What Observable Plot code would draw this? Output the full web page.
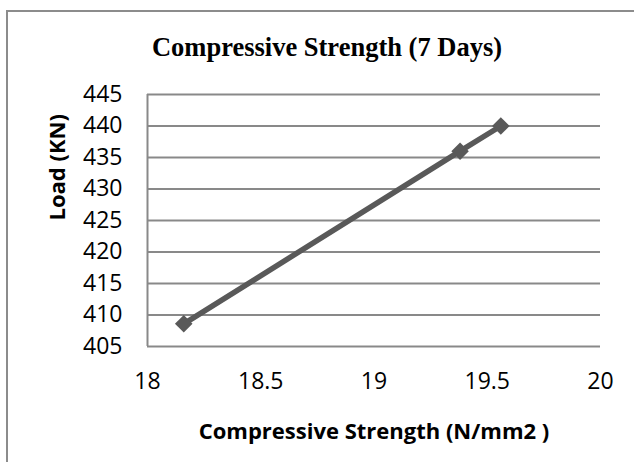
<!DOCTYPE html>
<html>
<head>
<meta charset="utf-8">
<script src="https://cdn.jsdelivr.net/npm/d3@7"></script>
<script src="https://cdn.jsdelivr.net/npm/@observablehq/plot@0.6"></script>
<style>
  html, body { margin: 0; padding: 0; background: #fff; }
  #wrap { position: relative; width: 634px; height: 462px; overflow: hidden; }
  #border { position: absolute; left: 6px; top: 10px; width: 700px; height: 500px;
            border-left: 2px solid #8c8c8c; border-top: 2px solid #8c8c8c; }
  #chart { position: absolute; left: 0; top: 0; }
</style>
</head>
<body>
<div id="wrap">
  <div id="border"></div>
  <div id="chart"></div>
</div>
<script>
// Data
const strength = [18.16, 19.38, 19.56];   // Compressive Strength (N/mm2)
const load = [408.6, 436, 440];           // Load (KN)
const xTicks = [18, 18.5, 19, 19.5, 20];
const yTicks = [405, 410, 415, 420, 425, 430, 435, 440, 445];
const titleText = "Compressive Strength (7 Days)";
const xTitle = "Compressive Strength (N/mm2 )";
const yTitle = "Load (KN)";

const data = strength.map((s, i) => ({x: s, y: load[i]}));
const lineColor = "#595959";
const gridColor = "#898989";
const sans = "'Open Sans', sans-serif";
const fmt = d => String(d);

const chart = Plot.plot({
  width: 634,
  height: 462,
  marginLeft: 147,
  marginRight: 34,
  marginTop: 94,
  marginBottom: 116,
  style: {background: "transparent", fontFamily: sans, fontSize: "23px", color: "#000"},
  x: {domain: [18, 20]},
  y: {domain: [405, 445]},
  marks: [
    Plot.ruleY(yTicks, {stroke: gridColor, strokeWidth: 2}),
    Plot.ruleX([18], {y1: 405, y2: 445, stroke: gridColor, strokeWidth: 2}),
    Plot.axisX({ticks: xTicks, tickFormat: fmt, tickSize: 0, tickPadding: 26, label: null, fontSize: 23, fill: "#000"}),
    Plot.axisY({ticks: yTicks, tickFormat: fmt, tickSize: 0, tickPadding: 25, label: null, fontSize: 23, fill: "#000"}),
    Plot.line(data, {x: "x", y: "y", stroke: lineColor, strokeWidth: 5.5}),
    Plot.dot(data, {x: "x", y: "y", symbol: "square", rotate: 45, r: 7, fill: lineColor, stroke: "none"}),
    Plot.text([titleText], {frameAnchor: "top", dx: -47, dy: -47, lineAnchor: "middle",
      fontFamily: "'Liberation Serif', 'Times New Roman', serif", fontWeight: "bold", fontSize: 26.5, fill: "#000"}),
    Plot.text([xTitle], {frameAnchor: "bottom", dy: 85, lineAnchor: "middle",
      fontFamily: sans, fontWeight: "bold", fontSize: 22, fill: "#000"}),
    Plot.text([yTitle], {frameAnchor: "left", dx: -90, rotate: -90, lineAnchor: "middle",
      fontFamily: sans, fontWeight: "bold", fontSize: 22, fill: "#000"})
  ]
});
document.getElementById("chart").appendChild(chart);
</script>
</body>
</html>
